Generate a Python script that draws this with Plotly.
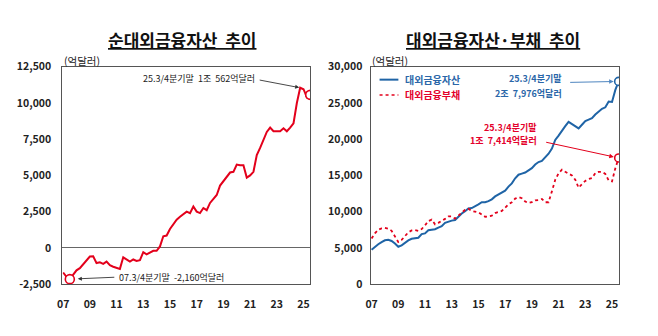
import plotly.graph_objects as go

# ---------------- data (quarterly, 2007Q1 .. 2025Q3) ----------------
years = [2007 + q / 4 for q in range(75)]

net_assets = [
    -1700, -2000, -2160, -1850, -1550, -1400, -1150, -850, -600, -580,
    -1050, -1000, -1100, -950, -1200, -1300, -1350, -1450, -650, -800,
    -950, -800, -900, -850, -300, -450, -350, -200, -200, 100,
    800, 850, 1300, 1600, 1950, 2150, 2300, 2500, 2400, 2850,
    2500, 2400, 2750, 2600, 3100, 3400, 3650, 4300, 4600, 4900,
    5200, 5250, 5750, 5700, 5700, 4850, 5000, 5250, 6400, 6900,
    7400, 8000, 8300, 8050, 8050, 8050, 8250, 8050, 8300, 8600,
    10000, 11050, 10950, 10400, 10562,
]

ext_assets = [
    4750, 5150, 5500, 5800, 6050, 6120, 5950, 5600, 5150, 5350,
    5700, 6030, 6250, 6340, 6400, 6900, 7000, 7440, 7500, 7570,
    7800, 8000, 8450, 8650, 8760, 8850, 9350, 9750, 10050, 10450,
    10500, 10700, 11000, 11300, 11300, 11450, 11700, 12100, 12350, 12600,
    12900, 13450, 13900, 14600, 15100, 15250, 15400, 15700, 16000, 16500,
    16850, 17000, 17500, 18000, 18700, 19900, 20500, 21200, 21800, 22400,
    22100, 21700, 21500, 22000, 22500, 22700, 22900, 23400, 23800, 24200,
    24400, 25200, 25150, 26800, 27976,
]

ext_liabs = [
    6300, 7000, 7500, 7700, 7750, 7650, 7350, 6500, 5800, 6100,
    6700, 7150, 7400, 7450, 7350, 7600, 8100, 8700, 8900, 8250,
    8450, 8700, 9000, 9340, 9340, 9050, 9400, 9850, 10250, 10400,
    10100, 10050, 9900, 9600, 9300, 9350, 9450, 9800, 10000, 10100,
    10550, 11000, 11300, 11800, 12000, 11850, 11400, 11200, 11300, 11550,
    11600, 11750, 11300, 11300, 12800, 14400, 15300, 15800, 15500, 15300,
    15000, 14400, 13300, 13800, 14250, 14500, 14620, 15300, 15500, 15500,
    15200, 14300, 14170, 16000, 17414,
]

x_tickvals = [2007, 2009, 2011, 2013, 2015, 2017, 2019, 2021, 2023, 2025]
x_ticktext = ["07", "09", "11", "13", "15", "17", "19", "21", "23", "25"]

left_tickvals = [-2500, 0, 2500, 5000, 7500, 10000, 12500]
left_ticktext = ["-2,500", "0", "2,500", "5,000", "7,500", "10,000", "12,500"]
right_tickvals = [0, 5000, 10000, 15000, 20000, 25000, 30000]
right_ticktext = ["0", "5,000", "10,000", "15,000", "20,000", "25,000", "30,000"]

# ---------------- styling ----------------
W, H = 658, 336
FONT = "Noto Sans CJK KR"
RED = "#e3001b"
BLUE = "#1f64a6"
RED_TXT = "#e4002b"
BLUE_TXT = "#2a66a8"
FRAME = "#555555"


def px(x):
    return x / W


def py(y):
    return 1 - y / H


fig = go.Figure()

# left: net external financial assets
fig.add_trace(go.Scatter(x=years, y=net_assets, mode="lines",
                         line=dict(color=RED, width=2), xaxis="x", yaxis="y",
                         showlegend=False))
fig.add_trace(go.Scatter(x=[years[2], years[-1]], y=[net_assets[2], net_assets[-1]],
                         mode="markers", xaxis="x", yaxis="y", showlegend=False,
                         marker=dict(symbol="circle", size=9, color="white",
                                     line=dict(color=RED, width=1.6))))

# right: external assets & liabilities
fig.add_trace(go.Scatter(x=years, y=ext_assets, mode="lines",
                         line=dict(color=BLUE, width=2), xaxis="x2", yaxis="y2",
                         showlegend=False))
fig.add_trace(go.Scatter(x=years, y=ext_liabs, mode="lines",
                         line=dict(color=RED, width=1.8, dash="dot"), xaxis="x2", yaxis="y2",
                         showlegend=False))
fig.add_trace(go.Scatter(x=[years[-1]], y=[ext_assets[-1]], mode="markers",
                         xaxis="x2", yaxis="y2", showlegend=False,
                         marker=dict(symbol="circle", size=8, color="white",
                                     line=dict(color=BLUE, width=1.6))))
fig.add_trace(go.Scatter(x=[years[-1]], y=[ext_liabs[-1]], mode="markers",
                         xaxis="x2", yaxis="y2", showlegend=False,
                         marker=dict(symbol="circle", size=8, color="white",
                                     line=dict(color=RED, width=1.6))))

tickfont = dict(family=FONT, size=10.5, color="#222", weight="bold")
axis_common = dict(showline=True, mirror=True, linecolor=FRAME, linewidth=1.3,
                   showgrid=False, ticks="", tickfont=tickfont)
ydom = [py(289), py(61.5)]

fig.update_layout(
    width=W, height=H,
    margin=dict(l=0, r=0, t=0, b=0),
    paper_bgcolor="white", plot_bgcolor="white",
    font=dict(family=FONT),
    xaxis=dict(domain=[px(57), px(307)], range=[2006.95, 2025.5],
               tickvals=x_tickvals, ticktext=x_ticktext, zeroline=False,
               ticklabelstandoff=10, anchor="y", **axis_common),
    yaxis=dict(domain=ydom, range=[-2500, 12500],
               tickvals=left_tickvals, ticktext=left_ticktext,
               zeroline=True, zerolinecolor="#666", zerolinewidth=1,
               ticklabelstandoff=8, anchor="x", **axis_common),
    xaxis2=dict(domain=[px(368), px(619)], range=[2006.93, 2025.55],
                tickvals=x_tickvals, ticktext=x_ticktext, zeroline=False,
                ticklabelstandoff=10, anchor="y2", **axis_common),
    yaxis2=dict(domain=ydom, range=[0, 30000],
                tickvals=right_tickvals, ticktext=right_ticktext,
                zeroline=False, ticklabelstandoff=5, anchor="x2", **axis_common),
)


def label(text, x, y, size, color="#222", xanchor="center"):
    return dict(text=text, x=px(x), y=py(y), xref="paper", yref="paper",
                xanchor=xanchor, yanchor="middle", showarrow=False,
                font=dict(family=FONT, size=size, color=color))


ann = []
# titles
ann.append(label("<b><u>순대외금융자산  추이</u></b>", 178, 33, 17, "#111"))
ann.append(label("<b><u>대외금융자산·부채  추이</u></b>", 491, 33, 17, "#111"))
# units
ann.append(label("(억달러)", 77, 55, 10.5))
ann.append(label("(억달러)", 388, 55, 10.5))

# left annotations
ann.append(label("25.3/4분기말  1조  562억달러", 253, 74, 9, xanchor="right"))
ann.append(dict(text="", x=years[71], y=net_assets[71], xref="x", yref="y",
                ax=-42, ay=-8, showarrow=True, arrowhead=2, arrowsize=0.9,
                arrowwidth=0.9, arrowcolor="#333", standoff=1))
ann.append(label("07.3/4분기말  -2,160억달러", 112, 282, 9, xanchor="left"))
ann.append(dict(text="", x=years[2], y=net_assets[2], xref="x", yref="y",
                ax=46, ay=-2, showarrow=True, arrowhead=2, arrowsize=0.9,
                arrowwidth=0.9, arrowcolor="#333", standoff=8))

# right legend (manual)
ann.append(label("<b>대외금융자산</b>", 401, 75, 10, BLUE_TXT, xanchor="left"))
ann.append(label("<b>대외금융부채</b>", 401, 91, 10, RED_TXT, xanchor="left"))
shapes = [
    dict(type="line", xref="paper", yref="paper", x0=px(377), x1=px(396),
         y0=py(75), y1=py(75), line=dict(color=BLUE, width=2)),
    dict(type="line", xref="paper", yref="paper", x0=px(377), x1=px(396),
         y0=py(91), y1=py(91), line=dict(color=RED, width=1.6, dash="dot")),
]

# right annotations
ann.append(label("<b>25.3/4분기말</b>", 563, 74, 9, BLUE_TXT, xanchor="right"))
ann.append(label("<b>2조  7,976억달러</b>", 563, 89, 9, BLUE_TXT, xanchor="right"))
ann.append(dict(text="", x=years[-1], y=ext_assets[-1], xref="x2", yref="y2",
                ax=-50, ay=1, showarrow=True, arrowhead=2, arrowsize=0.9,
                arrowwidth=1, arrowcolor="#4f86c0", standoff=5))
ann.append(label("<b>25.3/4분기말</b>", 538, 125, 9, RED_TXT, xanchor="right"))
ann.append(label("<b>1조  7,414억달러</b>", 538, 139, 9, RED_TXT, xanchor="right"))
ann.append(dict(text="", x=years[-1], y=ext_liabs[-1], xref="x2", yref="y2",
                ax=-74, ay=-16, showarrow=True, arrowhead=2, arrowsize=0.9,
                arrowwidth=1, arrowcolor=RED, standoff=5))

fig.update_layout(annotations=ann, shapes=shapes)
fig.write_html("out.html")
